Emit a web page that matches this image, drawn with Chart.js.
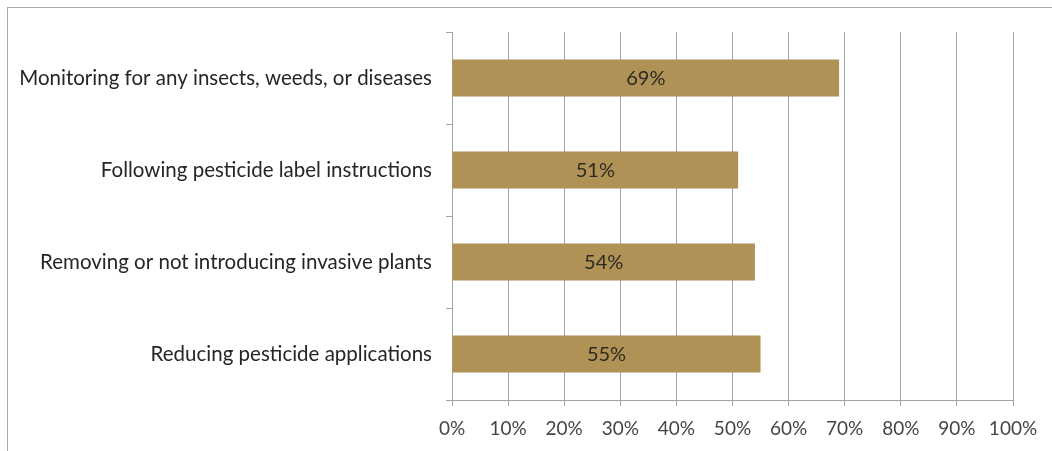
<!DOCTYPE html>
<html>
<head>
<meta charset="utf-8">
<script src="https://cdn.jsdelivr.net/npm/chart.js@4.4.1/dist/chart.umd.min.js"></script>
<style>
  html, body { margin: 0; padding: 0; background: #fff; }
  #wrap { position: relative; width: 1052px; height: 451px; overflow: hidden; }
  #frame { position: absolute; left: 7px; top: 7px; width: 1100px; height: 500px;
           border-left: 1px solid #a8a8a8; border-top: 1px solid #a8a8a8; }
  canvas { position: absolute; left: 0; top: 0; }
</style>
</head>
<body>
<div id="wrap">
  <div id="frame"></div>
  <canvas id="c" width="1052" height="451"></canvas>
</div>
<script>
  const categories = [
    'Monitoring for any insects, weeds, or diseases',
    'Following pesticide label instructions',
    'Removing or not introducing invasive plants',
    'Reducing pesticide applications'
  ];
  const values = [69, 51, 54, 55];
  const barLabels = ['69%', '51%', '54%', '55%'];
  const xTicks = ['0%', '10%', '20%', '30%', '40%', '50%', '60%', '70%', '80%', '90%', '100%'];

  const FONT = "Lato, 'Open Sans', sans-serif";

  const barText = {
    id: 'barText',
    afterDatasetsDraw(chart) {
      const ctx = chart.ctx;
      const meta = chart.getDatasetMeta(0);
      ctx.save();
      ctx.font = '20px ' + FONT;
      ctx.fillStyle = '#2e2a22';
      ctx.textAlign = 'center';
      ctx.textBaseline = 'middle';
      meta.data.forEach((bar, i) => {
        const p = bar.getProps(['x', 'y', 'base'], true);
        ctx.fillText(barLabels[i], (p.x + p.base) / 2, p.y + 1);
      });
      ctx.restore();
    }
  };

  new Chart(document.getElementById('c').getContext('2d'), {
    type: 'bar',
    data: {
      labels: categories,
      datasets: [{
        data: values,
        backgroundColor: '#b09256',
        borderWidth: 0,
        categoryPercentage: 1,
        barPercentage: 0.4
      }]
    },
    options: {
      indexAxis: 'y',
      responsive: false,
      animation: false,
      layout: { padding: { left: 0, right: 39, top: 32, bottom: 0 } },
      plugins: { legend: { display: false }, tooltip: { enabled: false } },
      scales: {
        x: {
          min: 0, max: 100,
          ticks: {
            stepSize: 10,
            padding: 11,
            color: '#454545',
            font: { family: FONT, size: 19 },
            callback: (v, i) => xTicks[i]
          },
          grid: { color: '#a4a4a4', lineWidth: 1, tickLength: 6 },
          border: { color: '#a4a4a4' },
          afterFit: s => { s.height = 51; }
        },
        y: {
          ticks: {
            padding: 14,
            color: '#262626',
            font: { family: FONT, size: 20.5 }
          },
          grid: { offset: true, drawOnChartArea: false, color: '#a4a4a4', tickLength: 6 },
          border: { color: '#a4a4a4' },
          afterFit: s => { s.width = 452; }
        }
      }
    },
    plugins: [barText]
  });
</script>
</body>
</html>
